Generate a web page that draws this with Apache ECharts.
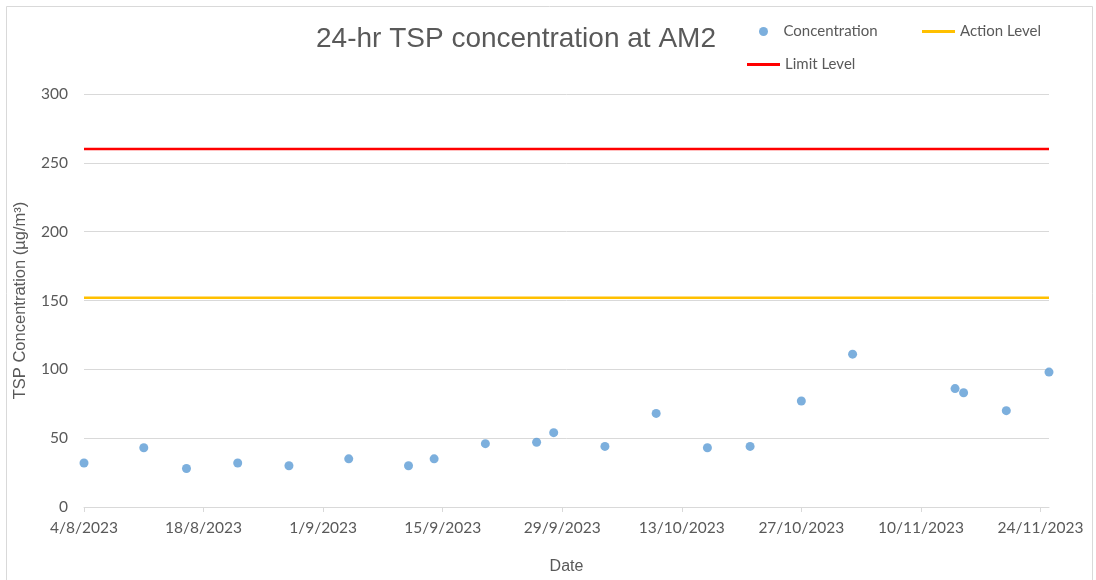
<!DOCTYPE html>
<html>
<head>
    <meta charset="UTF-8">
    <title>24-hr TSP concentration at AM2</title>
    <script src="https://cdn.jsdelivr.net/npm/echarts@6/dist/echarts.min.js"></script>
    <style>
        html, body { margin: 0; padding: 0; background: #fff; }
        #chart { width: 1096px; height: 580px; }
    </style>
</head>
<body>
<div id="chart"></div>
<script type="text/javascript">
    // sampling dates and measured 24-hr TSP values
    let sampleDates = ['2023-08-04', '2023-08-11', '2023-08-16', '2023-08-22', '2023-08-28',
        '2023-09-04', '2023-09-11', '2023-09-14', '2023-09-20', '2023-09-26', '2023-09-28',
        '2023-10-04', '2023-10-10', '2023-10-16', '2023-10-21', '2023-10-27',
        '2023-11-02', '2023-11-14', '2023-11-15', '2023-11-20', '2023-11-25'];
    let concentration = [32, 43, 28, 32, 30,
        35, 30, 35, 46, 47, 54,
        44, 68, 43, 44, 77,
        111, 86, 83, 70, 98];

    let actionLevel = 152;
    let limitLevel = 260;

    let axisStart = '2023-08-04';
    let axisEnd = '2023-11-25';
    let tickStepDays = 14;

    const DAY = 86400000;
    function toDays(s) {
        let p = s.split('-');
        return (Date.UTC(+p[0], +p[1] - 1, +p[2]) - Date.UTC(2023, 7, 4)) / DAY;
    }
    function dayLabel(d) {
        let dt = new Date(Date.UTC(2023, 7, 4) + d * DAY);
        return dt.getUTCDate() + '/' + (dt.getUTCMonth() + 1) + '/' + dt.getUTCFullYear();
    }

    let xMin = toDays(axisStart);
    let xMax = toDays(axisEnd);
    let tickValues = [];
    for (let d = xMin; d <= xMax; d += tickStepDays) tickValues.push(d);

    let chart = echarts.init(document.getElementById('chart'));
    let textColor = '#595959';
    let font = 'Lato, "Open Sans", sans-serif';
    let arial = '"Liberation Sans", Arial, sans-serif';

    let option = {
        animation: false,
        backgroundColor: '#fff',
        title: {
            text: '24-hr TSP concentration at AM2',
            left: 311,
            top: 20,
            textStyle: {
                fontFamily: arial,
                fontSize: 28,
                fontWeight: 'normal',
                color: textColor
            }
        },
        legend: [
            {
                data: [{name: 'Concentration', icon: 'circle'}],
                left: 754, top: 19,
                itemWidth: 30, itemHeight: 9,
                textStyle: {fontFamily: font, fontSize: 15, color: textColor}
            },
            {
                data: [{name: 'Action Level', icon: 'rect'}],
                left: 917, top: 19,
                itemWidth: 33, itemHeight: 3,
                textStyle: {fontFamily: font, fontSize: 15, color: textColor}
            },
            {
                data: [{name: 'Limit Level', icon: 'rect'}],
                left: 742, top: 52,
                itemWidth: 33, itemHeight: 3,
                textStyle: {fontFamily: font, fontSize: 15, color: textColor}
            }
        ],
        grid: {
            left: 84,
            right: 47,
            top: 94,
            bottom: 73,
            outerBoundsMode: 'none'
        },
        xAxis: {
            type: 'value',
            min: xMin,
            max: xMax,
            interval: tickStepDays,
            name: 'Date',
            nameLocation: 'middle',
            nameGap: 52,
            nameTextStyle: {fontFamily: arial, fontSize: 16, color: textColor},
            axisLine: {show: true, lineStyle: {color: '#D9D9D9', width: 1}},
            axisTick: {show: true, customValues: tickValues, length: 5, lineStyle: {color: '#D9D9D9'}},
            axisLabel: {
                customValues: tickValues,
                margin: 13,
                fontFamily: font,
                fontSize: 15.5,
                color: textColor,
                formatter: function (v) { return dayLabel(v); }
            },
            splitLine: {show: false}
        },
        yAxis: {
            type: 'value',
            min: 0,
            max: 300,
            interval: 50,
            name: 'TSP Concentration (µg/m³)',
            nameLocation: 'middle',
            nameGap: 55,
            nameTextStyle: {fontFamily: arial, fontSize: 16.5, color: textColor},
            axisLine: {show: false},
            axisTick: {show: false},
            axisLabel: {
                margin: 16,
                fontFamily: font,
                fontSize: 15.5,
                color: textColor
            },
            splitLine: {lineStyle: {color: '#D9D9D9', width: 1}}
        },
        series: [
            {
                name: 'Concentration',
                type: 'scatter',
                symbol: 'circle',
                symbolSize: 9,
                itemStyle: {color: '#5B9BD5'},
                data: sampleDates.map((d, i) => [toDays(d), concentration[i]]),
                z: 5
            },
            {
                name: 'Action Level',
                type: 'line',
                symbol: 'none',
                color: '#FFC000',
                lineStyle: {color: '#FFC000', width: 2.5},
                data: [[xMin, actionLevel], [xMax, actionLevel]]
            },
            {
                name: 'Limit Level',
                type: 'line',
                symbol: 'none',
                color: '#FF0000',
                lineStyle: {color: '#FF0000', width: 2.5},
                data: [[xMin, limitLevel], [xMax, limitLevel]]
            }
        ],
        graphic: [
            {
                type: 'rect',
                shape: {x: 6.5, y: 6.5, width: 1086, height: 590},
                style: {fill: 'none', stroke: '#D9D9D9', lineWidth: 1},
                silent: true
            }
        ]
    };
    chart.setOption(option);
</script>
</body>
</html>
